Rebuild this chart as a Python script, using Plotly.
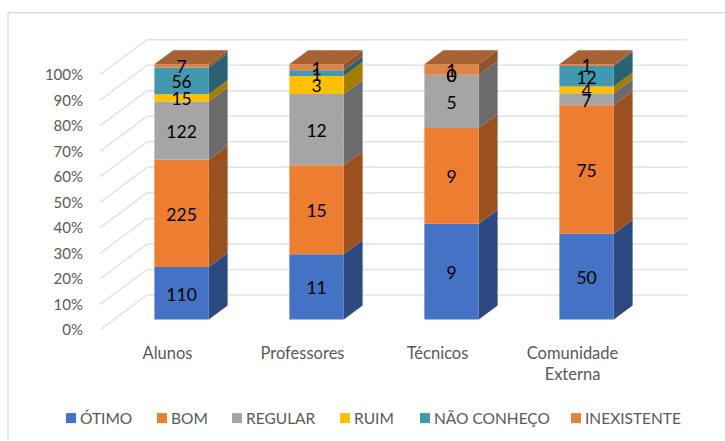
import plotly.graph_objects as go

categories = ["Alunos", "Professores", "Técnicos", "Comunidade<br>Externa"]
series_names = ["ÓTIMO", "BOM", "REGULAR", "RUIM", "NÃO CONHEÇO", "INEXISTENTE"]
otimo = [110, 11, 9, 50]
bom = [225, 15, 9, 75]
regular = [122, 12, 5, 7]
ruim = [15, 3, 0, 4]
nao_conheco = [56, 1, 0, 12]
inexistente = [7, 1, 1, 1]
series_values = [otimo, bom, regular, ruim, nao_conheco, inexistente]
colors = ["#4472C4", "#ED7D31", "#A5A5A5", "#FFC000", "#4198AF", "#DE8344"]
pct_ticks = [0, 10, 20, 30, 40, 50, 60, 70, 80, 90, 100]

FONT = "Lato"
W, H = 725, 441
# plot area in pixels, the axes are the front plane of the 3d box
LEFT, RIGHT, TOP, BOTTOM = 100, 687, 39.3, 330
PX_X = 135.0
PX_Y = 2.55
DX = 47 / PX_X    # box depth in axis units
DY = 35 / PX_Y
BAR_W = 0.403
D1, D2 = 0.3, 0.7    # bar front and back, as a share of the depth
LABEL_SHIFT = 3 / PX_Y    # plotly sets text a bit higher than excel did
# legend swatch centres in pixels, the native legend can't get this tight
LEGEND_PX = [71, 162, 237, 345, 425, 576]
LEGEND_Y = 418


def shade(color, k):
    r, g, b = [int(color[i:i + 2], 16) for i in (1, 3, 5)]
    return "rgb(%d,%d,%d)" % (r * k, g * k, b * k)


def px(cat, depth):
    return cat + depth * DX


def py(val, depth):
    return val + depth * DY


def paper_x(p):
    return (p - LEFT) / (RIGHT - LEFT)


def paper_y(p):
    return (BOTTOM - p) / (BOTTOM - TOP)


fig = go.Figure()

# walls
gx, gy = [], []
for p in pct_ticks:
    gx += [-0.5, -0.5 + DX, 3.5 + DX, None]
    gy += [p, p + DY, p + DY, None]
fig.add_trace(go.Scatter(x=gx, y=gy, mode="lines", line=dict(color="#E2E2E2", width=1.5),
                         showlegend=False, hoverinfo="skip"))

totals = [sum(s[i] for s in series_values) for i in range(len(categories))]

# cumulative percent per bar
bottoms = []
tops = []
for s in range(len(series_values)):
    b, t = [], []
    for i in range(len(categories)):
        below = sum(series_values[k][i] for k in range(s))
        b.append(below / totals[i] * 100)
        t.append((below + series_values[s][i]) / totals[i] * 100)
    bottoms.append(b)
    tops.append(t)

# side faces
for s, color in enumerate(colors):
    xs, ys = [], []
    for i in range(len(categories)):
        right = i + BAR_W / 2
        xs += [px(right, D1), px(right, D2), px(right, D2), px(right, D1), px(right, D1), None]
        ys += [py(bottoms[s][i], D1), py(bottoms[s][i], D2), py(tops[s][i], D2), py(tops[s][i], D1), py(bottoms[s][i], D1), None]
    fig.add_trace(go.Scatter(x=xs, y=ys, mode="lines", fill="toself", fillcolor=shade(color, 0.65),
                             line=dict(width=0), showlegend=False, hoverinfo="skip"))

# front faces
for s, color in enumerate(colors):
    xs, ys = [], []
    for i in range(len(categories)):
        l, r = i - BAR_W / 2, i + BAR_W / 2
        xs += [px(l, D1), px(r, D1), px(r, D1), px(l, D1), px(l, D1), None]
        ys += [py(bottoms[s][i], D1), py(bottoms[s][i], D1), py(tops[s][i], D1), py(tops[s][i], D1), py(bottoms[s][i], D1), None]
    fig.add_trace(go.Scatter(x=xs, y=ys, mode="lines", fill="toself", fillcolor=color, name=series_names[s],
                             line=dict(width=0), showlegend=False, hoverinfo="skip"))

# top faces
xs, ys = [], []
for i in range(len(categories)):
    l, r = i - BAR_W / 2, i + BAR_W / 2
    xs += [px(l, D1), px(r, D1), px(r, D2), px(l, D2), px(l, D1), None]
    ys += [py(100, D1), py(100, D1), py(100, D2), py(100, D2), py(100, D1), None]
fig.add_trace(go.Scatter(x=xs, y=ys, mode="lines", fill="toself", fillcolor=shade(colors[-1], 0.75),
                         line=dict(width=0), showlegend=False, hoverinfo="skip"))

# data labels
for s in range(len(series_values)):
    fig.add_trace(go.Scatter(
        x=[px(i, D1) for i in range(len(categories))],
        y=[py((bottoms[s][i] + tops[s][i]) / 2, D1) - LABEL_SHIFT for i in range(len(categories))],
        mode="text", text=[str(v) for v in series_values[s]], textposition="middle center",
        textfont=dict(family=FONT, size=17.5, color="#000000"),
        showlegend=False, hoverinfo="skip"))

# only the top and left edges of the chart frame show in the screenshot
frame = [dict(type="line", xref="paper", yref="paper", layer="below",
              x0=paper_x(8), x1=paper_x(W), y0=paper_y(13), y1=paper_y(13),
              line=dict(color="#DEDEDE", width=1.5)),
         dict(type="line", xref="paper", yref="paper", layer="below",
              x0=paper_x(8), x1=paper_x(8), y0=paper_y(13), y1=paper_y(H),
              line=dict(color="#DEDEDE", width=1.5))]

# legend row, swatches are shapes and names are annotations
swatches = []
names = []
for p, name, color in zip(LEGEND_PX, series_names, colors):
    swatches.append(dict(type="rect", xref="paper", yref="paper", x0=paper_x(p - 5), x1=paper_x(p + 5),
                         y0=paper_y(LEGEND_Y - 5), y1=paper_y(LEGEND_Y + 5), fillcolor=color, line=dict(width=0)))
    names.append(dict(xref="paper", yref="paper", x=paper_x(p + 8), y=paper_y(LEGEND_Y), text=name, showarrow=False,
                      xanchor="left", yanchor="middle", borderpad=0,
                      font=dict(family=FONT, size=15.5, color="#595959")))

fig.update_layout(
    width=W, height=H,
    autosize=False,
    margin=dict(l=LEFT, r=W - RIGHT, t=TOP, b=H - BOTTOM, pad=0),
    paper_bgcolor="white",
    plot_bgcolor="white",
    showlegend=False,
    font=dict(family=FONT, size=15, color="#595959"),
    xaxis=dict(range=[-0.5, 3.5 + DX], tickvals=list(range(len(categories))), ticktext=categories,
               tickfont=dict(size=16.5),
               showgrid=False, zeroline=False, showline=False, ticks="", ticklabelstandoff=11),
    yaxis=dict(range=[0, 290.7 / PX_Y], tickvals=pct_ticks, ticktext=[str(p) + "%" for p in pct_ticks],
               showgrid=False, zeroline=False, showline=False, ticks="", ticklabelstandoff=16),
    shapes=frame + swatches,
    annotations=names,
)

fig.write_html("out.html", config={"displayModeBar": False}, post_script="document.body.style.margin='0';")
